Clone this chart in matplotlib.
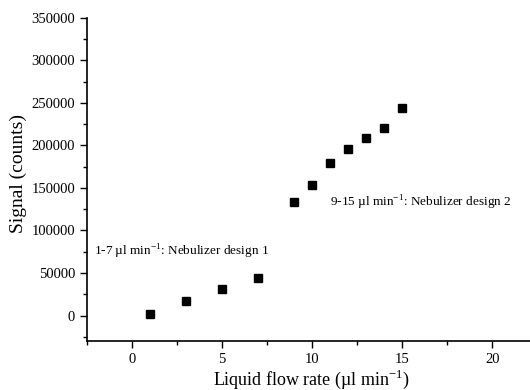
import matplotlib
matplotlib.use('Agg')
import matplotlib.pyplot as plt
from matplotlib.ticker import MultipleLocator

plt.rcParams['font.family'] = ['Liberation Serif', 'DejaVu Serif']
plt.rcParams['mathtext.fontset'] = 'custom'
plt.rcParams['mathtext.rm'] = 'Liberation Serif'

# flow rate (ul/min) and signal (counts)
flow = [1, 3, 5, 7, 9, 10, 11, 12, 13, 14, 15]
signal = [2000, 17600, 31700, 43800, 134000, 154000, 179500, 195500, 208500, 220000, 244500]

fig = plt.figure(figsize=(5.3, 3.9), dpi=100)
ax = fig.add_axes([0.164, 0.1256, 0.836, 0.8284])

ax.plot(flow, signal, 's', color='black', ms=6, ls='none')

ax.set_xlim(-2.5, 22.1)
ax.set_ylim(-30000, 350000)
ax.xaxis.set_major_locator(MultipleLocator(5))
ax.xaxis.set_minor_locator(MultipleLocator(2.5))
ax.yaxis.set_major_locator(MultipleLocator(50000))
ax.yaxis.set_minor_locator(MultipleLocator(25000))
ax.tick_params(which='major', direction='out', length=5, width=1, labelsize=10.5)
ax.tick_params(which='minor', direction='out', length=3, width=1)

ax.spines['top'].set_visible(False)
ax.spines['right'].set_visible(False)
ax.spines['left'].set_linewidth(1.2)
ax.spines['bottom'].set_linewidth(1.2)

ax.text(-2.1, 75000, '1-7 µl min$^{-1}$: Nebulizer design 1', fontsize=9.5, va='center')
ax.text(11.0, 133000, '9-15 µl min$^{-1}$: Nebulizer design 2', fontsize=9.5, va='center')

ax.set_xlabel('Liquid flow rate (µl min$^{-1}$)', fontsize=13)
ax.xaxis.set_label_coords(0.507, -0.084)
ax.set_ylabel('Signal (counts)', fontsize=14)
ax.yaxis.set_label_coords(-0.135, 0.52)

fig.savefig('out.png', dpi=100)
